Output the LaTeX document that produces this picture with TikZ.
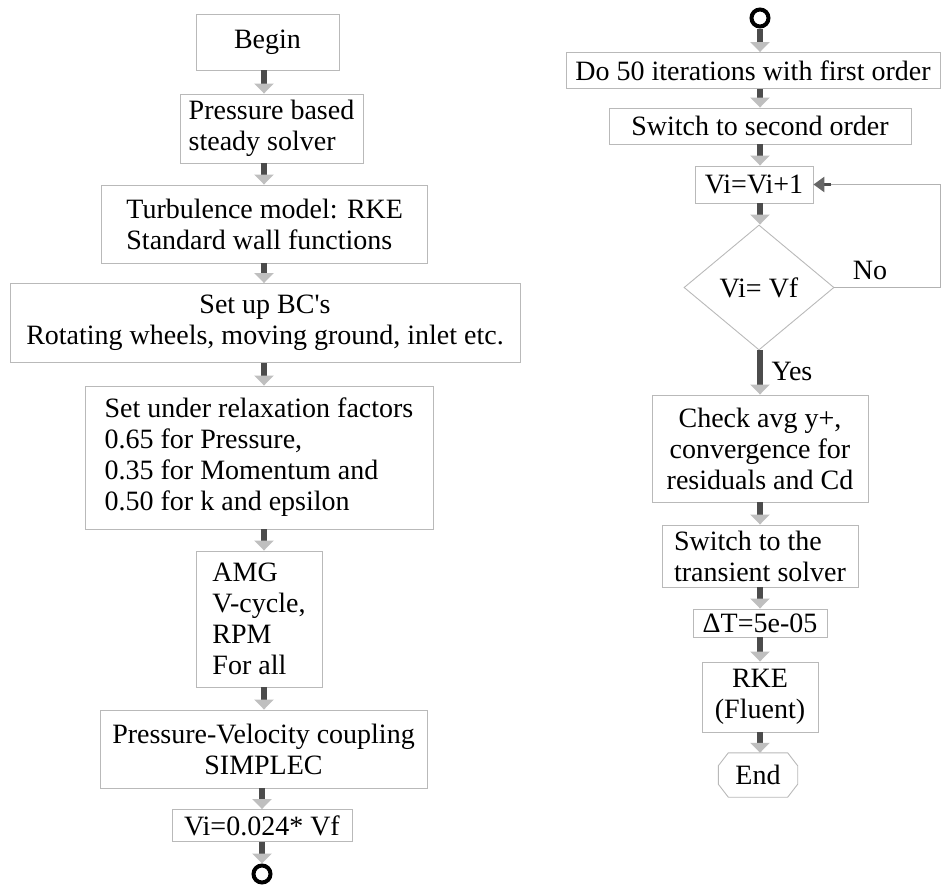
\documentclass[tikz,border=0pt]{standalone}
\usepackage{fontspec}
\setmainfont{Liberation Serif}
\usetikzlibrary{arrows.meta,shapes.geometric}
\begin{document}
\begin{tikzpicture}[x=1pt,y=-1pt,
  box/.style={draw=gray!55, line width=0.9pt, inner sep=2pt, font=\fontsize{28}{31}\selectfont},
  plain/.style={inner sep=2pt, font=\fontsize{28}{31}\selectfont},
  arr/.style={line width=5.5pt, draw=black!70, -{Triangle[width=19pt,length=10pt,color=gray!50,fill=gray!50]}},
  ring/.style={circle, draw=black, line width=4pt, minimum size=17pt, inner sep=0pt},
  fbline/.style={draw=gray!60, line width=1pt},
  fbarr/.style={line width=3.5pt, draw=black!70, -{Triangle[width=15pt,length=11pt,color=black!60,fill=black!60]}}]
\useasboundingbox (0,0) rectangle (946,886);
\coordinate (L) at (264,0);
\coordinate (R) at (760,0);
\coordinate (fb) at (940,0);
% left column
\node[box, minimum width=143pt, minimum height=56pt] (begin) at (267.5,42) {Begin};
\node[box, minimum width=183pt, minimum height=69pt, align=left] (press) at (271.5,128.5) {Pressure based\\steady solver};
\node[box, minimum width=326pt, minimum height=78pt, align=left] (turb) at (264.7,224) {Turbulence model: RKE\\Standard wall functions};
\node[box, minimum width=510pt, minimum height=79pt, align=center] (bc) at (265,323) {Set up BC\textquotesingle s\\Rotating wheels, moving ground, inlet etc.};
\node[box, minimum width=348pt, minimum height=143pt, align=left] (relax) at (259,457.5) {Set under relaxation factors\\0.65 for Pressure,\\0.35 for Momentum and\\0.50 for k and epsilon};
\node[box, minimum width=126pt, minimum height=136pt, align=left] (amg) at (259,619) {AMG\\V-cycle,\\RPM\\For all};
\node[box, minimum width=327pt, minimum height=78pt, align=center] (pv) at (263.5,749) {Pressure-Velocity coupling\\SIMPLEC};
\node[box, minimum width=180pt, minimum height=32pt] (vi0) at (262,825.5) {Vi=0.024* Vf};
\node[ring] (ringB) at (262,874) {};
\draw[arr] (begin.south -| L) -- (press.north -| L);
\draw[arr] (press.south -| L) -- (turb.north -| L);
\draw[arr] (turb.south -| L) -- (bc.north -| L);
\draw[arr] (bc.south -| L) -- (relax.north -| L);
\draw[arr] (relax.south -| L) -- (amg.north -| L);
\draw[arr] (amg.south -| L) -- (pv.north -| L);
\draw[arr] (pv.south -| ringB) -- (vi0.north -| ringB);
\draw[arr] (vi0.south -| ringB) -- (ringB.north);
% right column
\node[ring] (ringT) at (760,18) {};
\node[box, minimum width=374pt, minimum height=36pt] (do50) at (753,70.5) {Do 50 iterations with first order};
\node[box, minimum width=302pt, minimum height=36pt] (sw2) at (760,126) {Switch to second order};
\node[box, minimum width=118pt, minimum height=37pt] (inc) at (754,184.5) {Vi=Vi+1};
\node[box, diamond, minimum width=150pt, minimum height=125pt, inner sep=0pt] (dia) at (759,287.5) {Vi= Vf};
\node[box, minimum width=216pt, minimum height=107pt, align=center] (chk) at (760,448.5) {Check avg y+,\\ convergence for\\residuals and Cd};
\node[box, minimum width=196pt, minimum height=62pt, align=left] (tr) at (760,556) {Switch to the\\transient solver};
\node[box, minimum width=134pt, minimum height=28pt, inner sep=0pt] (dt) at (760,623) {ΔT=5e-05};
\node[box, minimum width=116pt, minimum height=70pt, align=center] (rke) at (760,697) {RKE\\(Fluent)};
\node[plain, minimum width=79pt, minimum height=44pt] (end) at (758,775) {End};
\draw[draw=gray!55, line width=0.9pt]
  ([xshift=10pt]end.north west) -- ([xshift=-10pt]end.north east) -- ([yshift=-13pt]end.north east)
  -- ([yshift=13pt]end.south east) -- ([xshift=-10pt]end.south east) -- ([xshift=10pt]end.south west)
  -- ([yshift=13pt]end.south west) -- ([yshift=-13pt]end.north west) -- cycle;
\draw[arr] (ringT.south) -- (do50.north -| R);
\draw[arr] (do50.south -| R) -- (sw2.north -| R);
\draw[arr] (sw2.south -| R) -- (inc.north -| R);
\draw[arr] (inc.south -| R) -- (dia.north -| R);
\draw[arr] (dia.south -| R) -- (chk.north -| R);
\draw[arr] (chk.south -| R) -- (tr.north -| R);
\draw[arr] (tr.south -| R) -- (dt.north -| R);
\draw[arr] (dt.south -| R) -- (rke.north -| R);
\draw[arr] (rke.south -| R) -- (end.north -| R);
% feedback loop
\draw[fbline] (dia.east) -- (dia.east -| fb) -- (inc.east -| fb) -- ([xshift=14pt]inc.east);
\draw[fbarr] ([xshift=18pt]inc.east) -- (inc.east);
\node[plain] (no) at (870,270) {No};
\node[plain] (yes) at (792,371) {Yes};
\end{tikzpicture}
\end{document}
